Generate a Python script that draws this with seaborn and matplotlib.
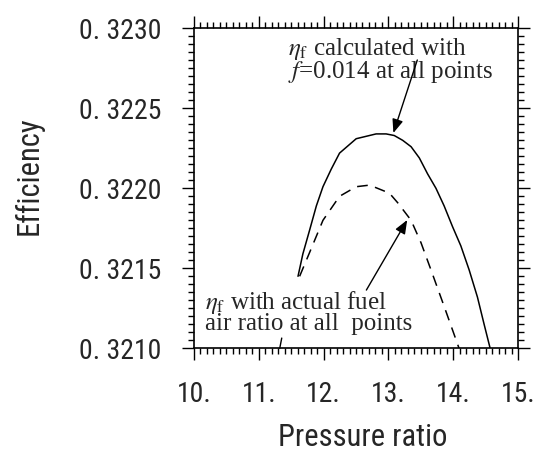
import numpy as np
import pandas as pd
import matplotlib
matplotlib.use("Agg")
import matplotlib.pyplot as plt
import seaborn as sns
from matplotlib.ticker import FixedLocator, MultipleLocator

# curve: eta_f with f = 0.014 at all points (solid)
fixed_pr = [11.605, 11.68, 11.785, 11.888, 11.99, 12.118, 12.246, 12.503,
            12.81, 12.965, 13.09, 13.22, 13.35, 13.477, 13.605, 13.734,
            13.86, 13.99, 14.118, 14.246, 14.374, 14.477, 14.57]
fixed_eff = [0.32145, 0.32159, 0.32174, 0.32189, 0.32201, 0.32212, 0.32222,
             0.32231, 0.32234, 0.32234, 0.32233, 0.32230, 0.32226, 0.32219,
             0.32209, 0.32200, 0.32189, 0.32176, 0.32164, 0.32149, 0.32132,
             0.32115, 0.32100]

# eta_f with actual fuel air ratio (dashed)
actual_pr = [11.63, 11.785, 11.99, 12.246, 12.503, 12.71, 13.015, 13.143,
             13.35, 13.503, 13.657, 13.862, 14.09]
actual_eff = [0.32145, 0.32160, 0.32180, 0.32195, 0.32201, 0.32202, 0.32197,
              0.32191, 0.32180, 0.32166, 0.32149, 0.32126, 0.32100]

x_ticks = [10, 11, 12, 13, 14, 15]
x_tick_labels = ["10.", "11.", "12.", "13.", "14.", "15."]
y_ticks = [0.3210, 0.3215, 0.3220, 0.3225, 0.3230]
y_tick_labels = ["0. 3210", "0. 3215", "0. 3220", "0. 3225", "0. 3230"]

sns.set_style("ticks")
plt.rcParams["font.family"] = ["Roboto Condensed", "Liberation Sans Narrow",
                               "Liberation Sans", "DejaVu Sans"]
plt.rcParams["mathtext.fontset"] = "stix"

fixed_df = pd.DataFrame({"pr": fixed_pr, "eff": fixed_eff})
actual_df = pd.DataFrame({"pr": actual_pr, "eff": actual_eff})

fig = plt.figure(figsize=(5.41, 4.62), dpi=100)
ax = fig.add_axes([0.3586, 0.2461, 0.5989, 0.6926])

sns.lineplot(data=fixed_df, x="pr", y="eff", color="black", linewidth=1.1,
             sort=False, ax=ax)
sns.lineplot(data=actual_df, x="pr", y="eff", color="black", linewidth=1.1,
             sort=False, dashes=False, ax=ax)
ax.lines[-1].set_dashes((7, 5))

ax.set_xlim(10, 15)
ax.set_ylim(0.3210, 0.3230)

ax.xaxis.set_major_locator(FixedLocator(x_ticks))
ax.set_xticklabels(x_tick_labels)
ax.yaxis.set_major_locator(FixedLocator(y_ticks))
ax.set_yticklabels(y_tick_labels)
ax.xaxis.set_minor_locator(MultipleLocator(0.1))
ax.yaxis.set_minor_locator(MultipleLocator(0.00005))

for s in ax.spines.values():
    s.set_visible(True)
    s.set_linewidth(1.2)
    s.set_color("black")

ax.tick_params(which="both", direction="out", top=True, right=True,
               color="black", width=1.0)
ax.tick_params(which="major", length=8.5, labelsize=20, pad=15)
ax.tick_params(which="minor", length=4.5)

ax.set_xlabel("Pressure ratio", fontsize=22)
ax.set_ylabel("Efficiency", fontsize=22)
ax.xaxis.set_label_coords(0.5216, -0.235)
ax.yaxis.set_label_coords(-0.465, 0.54)

serif = ["Liberation Serif", "DejaVu Serif"]
ax.text(11.446, 0.32295, "$\\eta_{\\rm f}$ calculated with\n$f$=0.014 at all points",
        ha="left", va="top", fontsize=18, family=serif, linespacing=0.82)
ax.text(10.17, 0.32137, "$\\eta_{\\rm f}$ with actual fuel\nair ratio at all  points",
        ha="left", va="top", fontsize=18, family=serif, linespacing=0.82)

arrow = dict(arrowstyle="-|>,head_length=0.55,head_width=0.22", color="black",
             lw=1.0, mutation_scale=15, shrinkA=0, shrinkB=0)
ax.annotate("", xy=(13.077, 0.322346), xytext=(13.446, 0.322802), arrowprops=arrow)
ax.annotate("", xy=(13.29, 0.321802), xytext=(12.66, 0.321364), arrowprops=arrow)
ax.annotate("", xy=(11.323, 0.3210), xytext=(11.354, 0.321064),
            arrowprops=dict(arrowstyle="-", color="black", lw=1.0,
                            shrinkA=0, shrinkB=0))

fig.savefig("out.png", dpi=100)
